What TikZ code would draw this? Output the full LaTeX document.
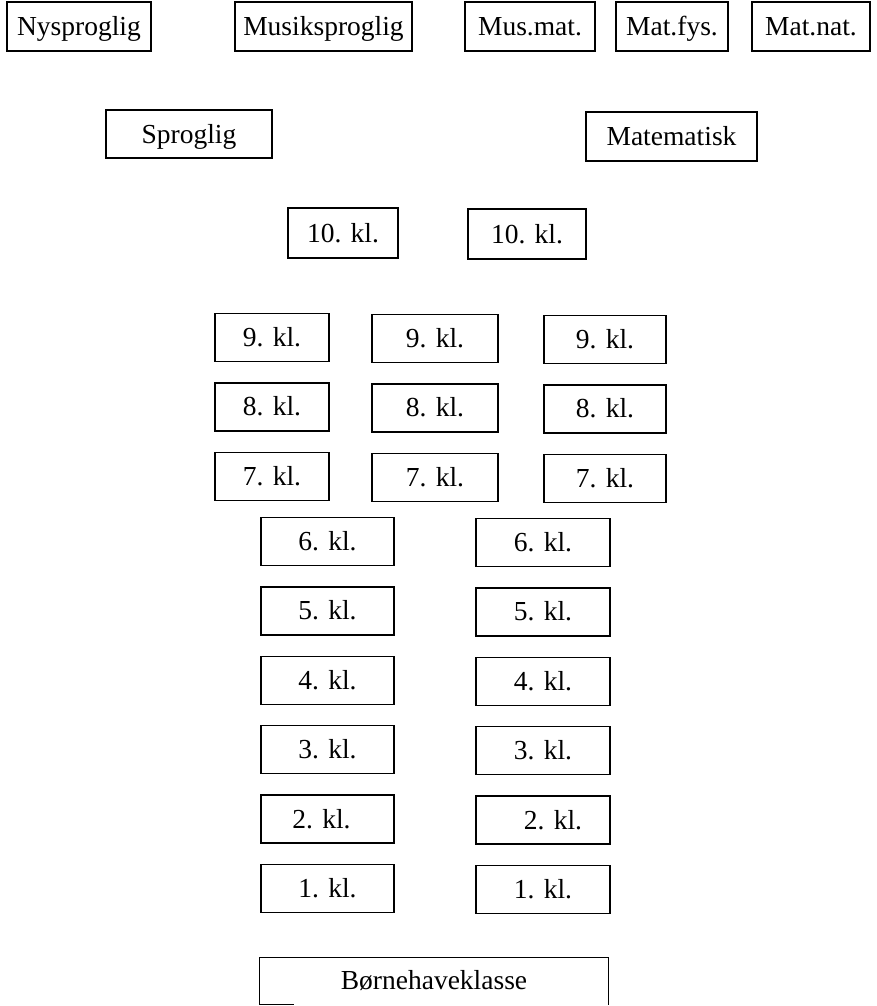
\documentclass[tikz,border=0pt]{standalone}
\usepackage{fontspec}
\setmainfont{Liberation Serif}
\usetikzlibrary{positioning}

\begin{document}
\begin{tikzpicture}[x=1pt, y=-1pt, node distance=20pt, line width=1.4pt,
    box/.style = {draw, minimum height=48pt, inner sep=0pt, text height=33pt, text depth=15pt,
      font=\fontsize{27.5}{31}\selectfont},
    cola/.style = {box, minimum width=114pt},
    colb/.style = {box, minimum width=126pt},
    colc/.style = {box, minimum width=122pt},
    lowa/.style = {box, minimum width=133pt},
    lowb/.style = {box, minimum width=134pt}]
    \useasboundingbox (0,0) rectangle (876,1006);

    % Linjer
    \node[box, minimum width=144pt, minimum height=49pt] (nysprog) at (79,26.5) {Nysproglig};
    \node[box, minimum width=177pt, minimum height=49pt] (musprog) at (323.5,26.5) {Musiksproglig};
    \node[box, minimum width=130pt, minimum height=49pt] (musmat) at (530,26.5) {Mus.mat.};
    \node[box, minimum width=112pt, minimum height=49pt] (matfys) at (672,26.5) {Mat.fys.};
    \node[box, minimum width=118pt, minimum height=49pt] (matnat) at (811,26.5) {Mat.nat.};

    % Gymnasiet
    \node[box, minimum width=166pt] (sprog) at (189,134) {Sproglig};
    \node[box, minimum width=171pt, minimum height=49pt] (mat) at (671.5,136.5) {Matematisk};

    % 10. klasse
    \node[box, minimum width=110pt, minimum height=50pt] (a10) at (343,233) {10. kl.};
    \node[box, minimum width=118pt, minimum height=50pt] (b10) at (527,234) {10. kl.};

    % 7.-9. klasse
    \node[cola] (a9) at (272,337.5) {9. kl.};
    \node[cola] (a8) [below=of a9] {8. kl.};
    \node[cola] (a7) [below=of a8] {7. kl.};
    \node[colb] (b9) at (435,338.5) {9. kl.};
    \node[colb] (b8) [below=of b9] {8. kl.};
    \node[colb] (b7) [below=of b8] {7. kl.};
    \node[colc] (c9) at (605,339.5) {9. kl.};
    \node[colc] (c8) [below=of c9] {8. kl.};
    \node[colc] (c7) [below=of c8] {7. kl.};

    % 1.-6. klasse
    \node[lowa] (a6) at (327.5,541.5) {6. kl.};
    \node[lowa] (a5) [below=of a6] {5. kl.};
    \node[lowa] (a4) [below=of a5] {4. kl.};
    \node[lowa] (a3) [below=of a4] {3. kl.};
    \node[lowa] (a2) [below=of a3] {2. kl.\hspace*{12pt}};
    \node[lowa] (a1) [below=of a2] {1. kl.};
    \node[lowb] (b6) at (543,542.5) {6. kl.};
    \node[lowb] (b5) [below=of b6] {5. kl.};
    \node[lowb] (b4) [below=of b5] {4. kl.};
    \node[lowb] (b3) [below=of b4] {3. kl.};
    \node[lowb] (b2) [below=of b3] {\hspace*{20pt}2. kl.};
    \node[lowb] (b1) [below=of b2] {1. kl.};

    % Boernehaveklasse
    \node[box, draw=none, minimum width=348pt, minimum height=46pt, text height=31pt] (bhk) at (434,981) {Børnehaveklasse};
    \draw (bhk.south west) -- (bhk.north west) -- (bhk.north east) -- (bhk.south east);
    \draw (bhk.south west) -- ++(35,0);
\end{tikzpicture}
\end{document}
